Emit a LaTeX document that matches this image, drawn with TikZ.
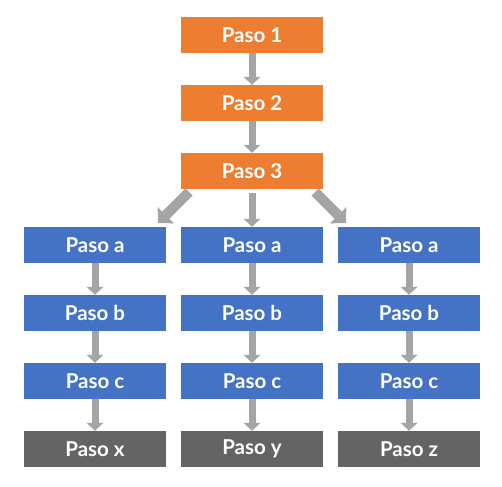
\documentclass[tikz,border=0pt]{standalone}
\usepackage{fontspec}
\setmainfont{Lato}
\usepackage{tikz}
\usetikzlibrary{positioning,arrows.meta}
\definecolor{pasoorange}{HTML}{ED7D31}
\definecolor{pasoblue}{HTML}{4472C4}
\definecolor{pasodark}{HTML}{646464}
\definecolor{arrgray}{HTML}{A5A5A5}

\begin{document}
\begin{tikzpicture}[x=1pt,y=-1pt,
  box/.style={minimum width=142pt,minimum height=36pt,inner sep=0pt,
    text=white,font=\fontsize{20.5}{24}\selectfont\bfseries},
  orangebox/.style={box,fill=pasoorange},
  bluebox/.style={box,fill=pasoblue},
  darkbox/.style={box,fill=pasodark},
  arr/.style={draw=arrgray,line width=7pt,
    -{Triangle[length=8pt,width=17pt,line width=0pt]}},
  fatarr/.style={draw=arrgray,line width=10pt,
    -{Triangle[length=11pt,width=23pt,line width=0pt]}}]
  \useasboundingbox (0,0) rectangle (502,486);
  % the main chain
  \node[orangebox] (p1) at (252,35) {Paso 1};
  \node[orangebox] (p2) at (252,103) {Paso 2};
  \node[orangebox] (p3) at (252,171) {Paso 3};
  \draw[arr] (p1)--(p2);
  \draw[arr] (p2)--(p3);
  % three branches
  \foreach \c/\x/\z in {1/95/x,2/252/y,3/409/z} {
    \node[bluebox] (a\c) at (\x,245) {Paso a};
    \node[bluebox] (b\c) at (\x,313) {Paso b};
    \node[bluebox] (c\c) at (\x,381) {Paso c};
    \node[darkbox] (e\c) at (\x,449) {Paso \z};
    \draw[arr] (a\c)--(b\c);
    \draw[arr] (b\c)--(c\c);
    \draw[arr] (c\c)--(e\c);
  }
  % split after step 3
  \coordinate (lt) at (189,192);
  \coordinate (lh) at (158,223);
  \coordinate (rt) at (315,192);
  \coordinate (rh) at (346,223);
  \draw[arr] (p3.south)++(0,4)--(a2);
  \draw[fatarr] (lt)--(lh);
  \draw[fatarr] (rt)--(rh);
\end{tikzpicture}
\end{document}
